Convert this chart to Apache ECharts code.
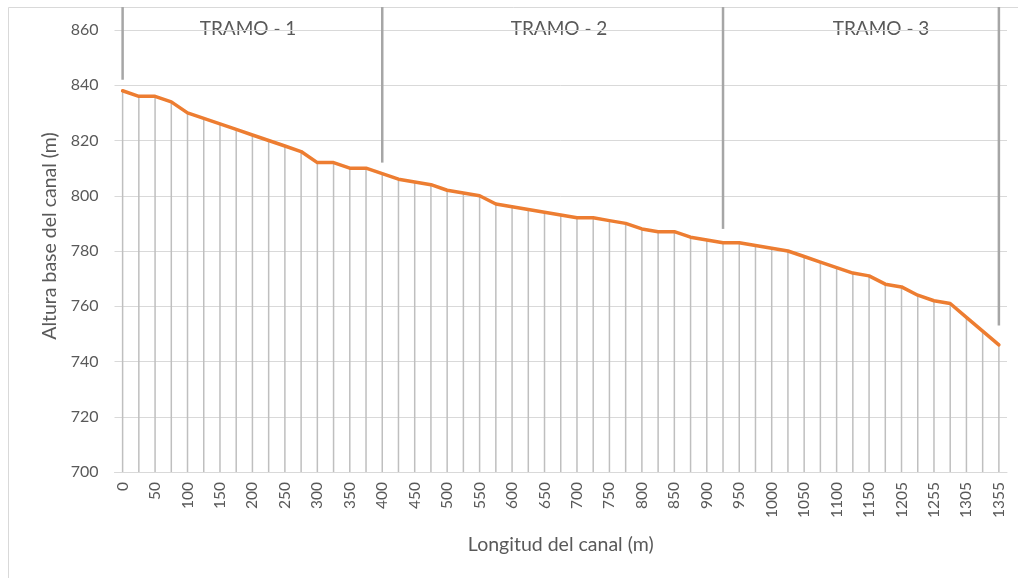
<!DOCTYPE html>
<html>
<head>
<meta charset="utf-8">
<script src="https://cdn.jsdelivr.net/npm/echarts@6/dist/echarts.min.js"></script>
<style>
  html, body { margin: 0; padding: 0; background: #ffffff; }
  #chart { width: 1018px; height: 578px; }
</style>
</head>
<body>
<div id="chart"></div>
<script>
// Progresivas del eje del canal (m)
const distances = [
  '0', '25', '50', '75', '100', '125', '150', '175', '200', '225',
  '250', '275', '300', '325', '350', '375', '400', '425', '450', '475',
  '500', '525', '550', '575', '600', '625', '650', '675', '700', '725',
  '750', '775', '800', '825', '850', '875', '900', '925', '950', '975',
  '1000', '1025', '1050', '1075', '1100', '1125', '1150', '1180', '1205', '1230',
  '1255', '1280', '1305', '1330', '1355'
];

// Cota de la base del canal en cada progresiva (m)
const baseElevation = [
  838, 836, 836, 834, 830, 828, 826, 824, 822, 820,
  818, 816, 812, 812, 810, 810, 808, 806, 805, 804,
  802, 801, 800, 797, 796, 795, 794, 793, 792, 792,
  791, 790, 788, 787, 787, 785, 784, 783, 783, 782,
  781, 780, 778, 776, 774, 772, 771, 768, 767, 764,
  762, 761, 756, 751, 746
];

// Separadores de tramos: progresiva y cota inferior de cada marca
const tramoAt = ['0', '400', '925', '1355'];
const tramoTop = 868.3;
const tramoBottom = [842, 812, 788, 753];
const tramoNames = ['TRAMO - 1', 'TRAMO - 2', 'TRAMO - 3'];

// Escala vertical
const yMin = 700;
const yMax = 860;
const yStep = 20;

const textColor = '#595959';
const fontFamily = 'Lato, "Open Sans", "Noto Sans", sans-serif';

const chart = echarts.init(document.getElementById('chart'), null, { renderer: 'canvas' });

const dropData = baseElevation.map((v, i) => [i, v]);
const tramoData = tramoAt.map((d, k) => [d, tramoTop, tramoBottom[k]]);

const tramoLabelX = [248, 559, 881];

chart.setOption({
  animation: false,
  backgroundColor: '#ffffff',
  textStyle: { fontFamily: fontFamily },
  grid: { left: 114.5, right: 11, top: 30, bottom: 106, containLabel: false },
  xAxis: {
    type: 'category',
    data: distances,
    boundaryGap: true,
    name: 'Longitud del canal (m)',
    nameLocation: 'middle',
    nameGap: 63,
    nameTextStyle: { color: textColor, fontSize: 19.5, fontFamily: fontFamily },
    axisLine: { lineStyle: { color: '#D9D9D9', width: 1 } },
    axisTick: { show: false },
    axisLabel: {
      interval: 1,
      rotate: 90,
      margin: 10,
      color: textColor,
      fontSize: 15.5,
      fontFamily: fontFamily
    },
    splitLine: { show: false }
  },
  yAxis: {
    type: 'value',
    min: yMin,
    max: yMax,
    interval: yStep,
    axisLine: { show: false },
    axisTick: { show: false },
    axisLabel: { margin: 16, color: textColor, fontSize: 16, fontFamily: fontFamily },
    splitLine: { lineStyle: { color: '#D9D9D9', width: 1 } }
  },
  series: [
    {
      // líneas de proyección desde cada punto hasta el eje horizontal
      type: 'custom',
      name: 'proyecciones',
      data: dropData,
      silent: true,
      z: 2,
      renderItem: function (params, api) {
        const top = api.coord([api.value(0), api.value(1)]);
        const bottom = api.coord([api.value(0), yMin]);
        return {
          type: 'line',
          shape: { x1: top[0], y1: top[1], x2: bottom[0], y2: bottom[1] },
          style: { stroke: '#BFBFBF', lineWidth: 1.5 }
        };
      }
    },
    {
      // marcas verticales que separan los tramos
      type: 'custom',
      name: 'tramos',
      data: tramoData,
      silent: true,
      clip: false,
      z: 3,
      renderItem: function (params, api) {
        const top = api.coord([api.value(0), api.value(1)]);
        const bottom = api.coord([api.value(0), api.value(2)]);
        return {
          type: 'line',
          shape: { x1: top[0], y1: top[1], x2: bottom[0], y2: bottom[1] },
          style: { stroke: '#A6A6A6', lineWidth: 2.5 }
        };
      }
    },
    {
      type: 'line',
      name: 'Altura base del canal',
      data: baseElevation,
      showSymbol: false,
      symbol: 'none',
      z: 4,
      lineStyle: { color: '#ED7D31', width: 3.5, cap: 'round', join: 'round' }
    }
  ],
  graphic: [
    {
      type: 'rect',
      silent: true,
      z: -10,
      shape: { x: 8.5, y: 7.5, width: 1040, height: 600 },
      style: { fill: 'none', stroke: '#D9D9D9', lineWidth: 1 }
    },
    {
      // título del eje vertical
      type: 'text',
      silent: true,
      x: 50,
      y: 236,
      rotation: Math.PI / 2,
      style: {
        text: 'Altura base del canal (m)',
        fill: textColor,
        font: '19.5px ' + fontFamily,
        textAlign: 'center',
        textVerticalAlign: 'middle'
      }
    }
  ].concat(tramoNames.map((t, k) => ({
    type: 'text',
    silent: true,
    x: tramoLabelX[k],
    y: 29,
    style: {
      text: t,
      fill: textColor,
      font: '19px ' + fontFamily,
      textAlign: 'center',
      textVerticalAlign: 'middle'
    }
  })))
});
</script>
</body>
</html>
